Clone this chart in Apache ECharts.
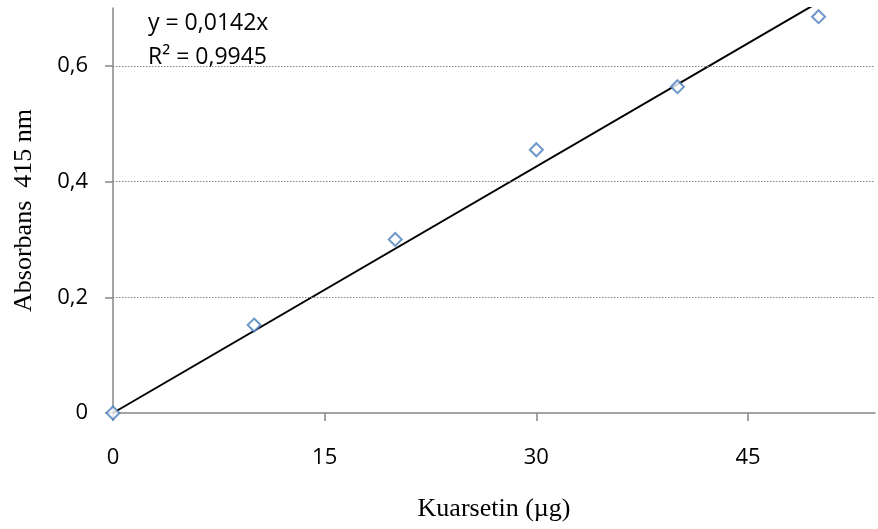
<!DOCTYPE html>
<html>
<head>
<meta charset="utf-8">
<script src="https://cdn.jsdelivr.net/npm/echarts@6/dist/echarts.min.js"></script>
<style>
  html, body { margin: 0; padding: 0; background: #fff; }
  #main { width: 878px; height: 529px; }
</style>
</head>
<body>
<div id="main"></div>
<script>
// measured points
var kuarsetin = [0, 10, 20, 30, 40, 50];
var absorbans = [0, 0.152, 0.300, 0.455, 0.564, 0.685];
// linear trendline y = 0.0142x drawn between these two points (clipped at top)
var trendPoints = [[0, 0], [50, 0.71]];
var xTicks = [0, 15, 30, 45];
var yTicks = [0, 0.2, 0.4, 0.6];
var gridValues = [0.2, 0.4, 0.6];
var equationText = 'y = 0,0142x';
var r2Text = 'R² = 0,9945';

var chartDom = document.getElementById('main');
var myChart = echarts.init(chartDom, null, { renderer: 'canvas' });

var axisGray = '#868686';
var labelFont = '"Open Sans", sans-serif';
var titleFont = '"Liberation Serif", "Times New Roman", serif';

var option = {
    animation: false,
    grid: { left: 113, right: 3, top: 8, bottom: 116, outerBoundsMode: 'none', containLabel: false },
    xAxis: {
        type: 'value',
        min: 0,
        max: 54,
        name: 'Kuarsetin (µg)',
        nameLocation: 'middle',
        nameGap: 83,
        nameTextStyle: { fontFamily: titleFont, fontSize: 26, color: '#000' },
        axisLine: { show: true, onZero: false, lineStyle: { color: axisGray, width: 1.5 } },
        axisTick: { show: true, customValues: xTicks, length: 8, lineStyle: { color: axisGray, width: 1.5 } },
        axisLabel: {
            customValues: xTicks,
            margin: 34,
            fontFamily: labelFont,
            fontSize: 22,
            color: '#000'
        },
        splitLine: { show: false }
    },
    yAxis: {
        type: 'value',
        min: 0,
        max: 0.7,
        name: 'Absorbans  415 nm',
        nameLocation: 'middle',
        nameGap: 76,
        nameRotate: 90,
        nameTextStyle: { fontFamily: titleFont, fontSize: 26, color: '#000' },
        axisLine: { show: true, onZero: false, lineStyle: { color: axisGray, width: 1.5 } },
        axisTick: { show: true, customValues: yTicks, length: 8, lineStyle: { color: axisGray, width: 1.5 } },
        axisLabel: {
            customValues: yTicks,
            margin: 25,
            fontFamily: labelFont,
            fontSize: 22,
            color: '#000',
            formatter: function (v) { return String(v).replace('.', ','); }
        },
        splitLine: { show: false }
    },
    graphic: [
        {
            type: 'text', left: 148, top: 12,
            style: { text: equationText, font: '23px "Open Sans", sans-serif', fill: '#000' }
        },
        {
            type: 'text', left: 148, top: 46,
            style: { text: r2Text, font: '23px "Open Sans", sans-serif', fill: '#000' }
        }
    ],
    series: [
        {
            type: 'line',
            data: trendPoints,
            symbol: 'none',
            silent: true,
            clip: true,
            lineStyle: { color: '#000', width: 2 },
            z: 2,
            markLine: {
                silent: true,
                symbol: 'none',
                label: { show: false },
                lineStyle: { color: axisGray, width: 1, type: [1.5, 1.5] },
                data: gridValues.map(function (v) { return { yAxis: v }; })
            }
        },
        {
            type: 'scatter',
            data: kuarsetin.map(function (x, i) { return [x, absorbans[i]]; }),
            symbol: 'diamond',
            symbolSize: 13,
            clip: false,
            itemStyle: { color: '#fff', borderColor: '#4a7ebb', borderWidth: 2 },
            z: 3
        }
    ]
};
option && myChart.setOption(option);
</script>
</body>
</html>
